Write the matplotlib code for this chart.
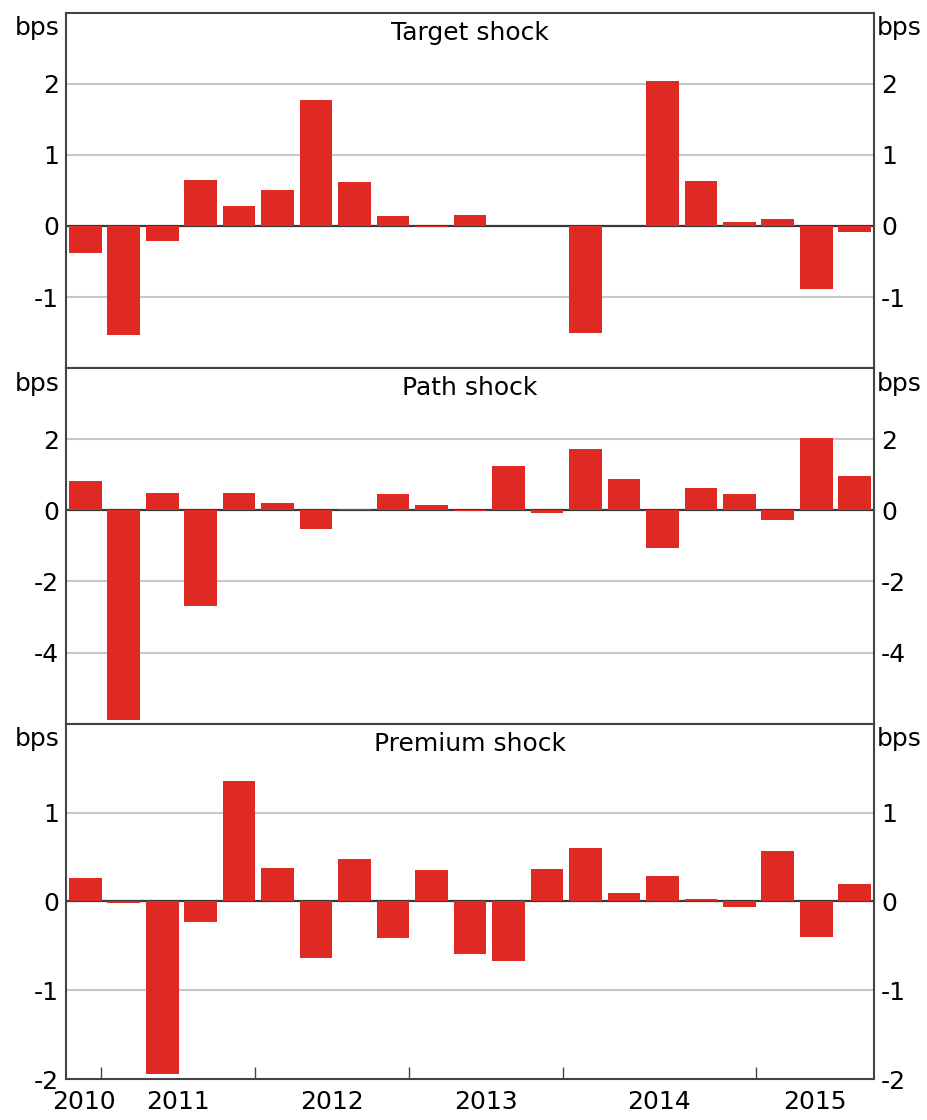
import matplotlib
matplotlib.use('Agg')
import matplotlib.pyplot as plt
import numpy as np

# monetary policy shocks, bps
target = [-0.38, -1.53, -0.21, 0.65, 0.28, 0.51, 1.77, 0.62, 0.14, -0.02, 0.16,
          0.0, 0.0, -1.50, 0.0, 2.04, 0.63, 0.05, 0.10, -0.88, -0.08]
path = [0.82, -5.90, 0.48, -2.69, 0.48, 0.20, -0.52, 0.03, 0.45, 0.14, -0.01,
        1.24, -0.08, 1.72, 0.87, -1.06, 0.62, 0.45, -0.27, 2.03, 0.96]
premium = [0.26, -0.02, -1.94, -0.23, 1.35, 0.38, -0.64, 0.48, -0.41, 0.35, -0.59,
           -0.67, 0.37, 0.60, 0.09, 0.29, 0.03, -0.06, 0.57, -0.40, 0.20]

years = ['2010', '2011', '2012', '2013', '2014', '2015']
year_ticks = [0.42, 4.42, 8.42, 12.42, 17.43]
year_label_pos = [-0.04, 2.42, 6.42, 10.42, 14.92, 18.96]

panels = [
    ('Target shock', target, (-2, 3), [-1, 0, 1, 2]),
    ('Path shock', path, (-6, 4), [-4, -2, 0, 2]),
    ('Premium shock', premium, (-2, 2), [-2, -1, 0, 1]),
]

RED = '#DE2A22'
GRID = '#C8C8C8'
DARK = '#3A3A3A'
FS = 18

plt.rcParams['font.family'] = ['DejaVu Sans']
plt.rcParams['axes.unicode_minus'] = False

fig = plt.figure(figsize=(9.28, 11.2), dpi=100)
W, H = 928.0, 1120.0
left = 66 / W
width = 808 / W
ph = 355.5 / H
top = 1 - 12.7 / H

x = np.arange(len(target))
for i, (title, vals, lims, ticks) in enumerate(panels):
    ax = fig.add_axes([left, top - (i + 1) * ph, width, ph])
    ax.bar(x, vals, width=0.85, color=RED, zorder=3)
    for t in ticks:
        if t == 0:
            ax.axhline(0, color=DARK, lw=1.6, zorder=2)
        elif t != lims[0]:
            ax.axhline(t, color=GRID, lw=1.5, zorder=1)
    ax.set_xlim(-0.5, 20.5)
    ax.set_ylim(*lims)
    ax.set_yticks(ticks)
    ax.set_yticklabels([str(t) for t in ticks])
    ax.tick_params(axis='y', length=0, pad=5, labelright=True, labelsize=FS)
    for s in ax.spines.values():
        s.set_color('#444444')
        s.set_linewidth(1.5)
    ax.text(0.5, 0.978, title, transform=ax.transAxes, ha='center', va='top', fontsize=FS)
    ax.text(-0.008, 0.99, 'bps', transform=ax.transAxes, ha='right', va='top', fontsize=FS)
    ax.text(1.004, 0.99, 'bps', transform=ax.transAxes, ha='left', va='top', fontsize=FS)
    if i < 2:
        ax.set_xticks([])
    else:
        ax.set_xticks(year_ticks)
        ax.set_xticklabels([])
        ax.tick_params(axis='x', which='major', direction='in', length=8.5, width=1, color='#444444')
        ax.set_xticks(year_label_pos, minor=True)
        ax.set_xticklabels(years, minor=True)
        ax.tick_params(axis='x', which='minor', length=0, pad=8, labelsize=FS)

fig.savefig('out.png', dpi=100)
